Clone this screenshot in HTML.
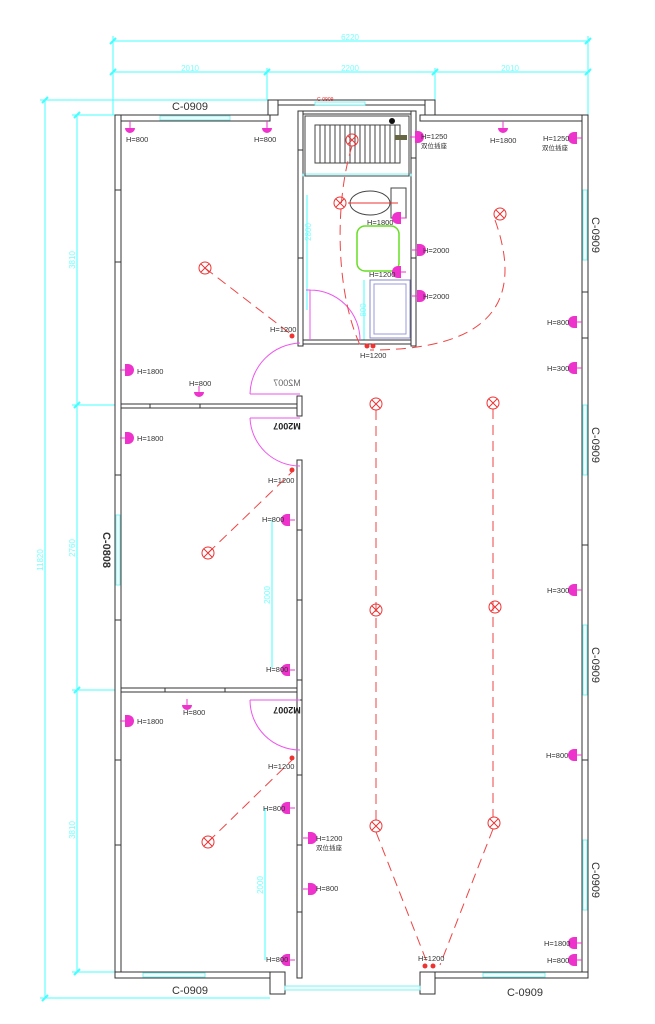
<!DOCTYPE html>
<html><head><meta charset="utf-8"><style>
html,body{margin:0;padding:0;background:#fff;width:655px;height:1024px;overflow:hidden}
svg{display:block}
text{font-family:"Liberation Sans","Noto Sans CJK SC",sans-serif}
.w{fill:#fff;stroke:#333;stroke-width:1}
.c{stroke:#4ff;stroke-width:1;fill:none}
.ct{fill:#7ff;font-size:8px}
.l{font-size:7.5px;fill:#333}
.r{stroke:#e33;stroke-width:1;fill:none}
.d{stroke:#e44;stroke-width:1;fill:none;stroke-dasharray:10 6}
.m{fill:#e3c}
</style></head><body>
<svg width="655" height="1024" viewBox="0 0 655 1024">
<defs>
<g id="L"><circle r="6" class="r"/><path d="M-4,-4L4,4M-4,4L4,-4" class="r"/></g>
<g id="S"><path d="M0,-6A6,6 0 0 0 0,6Z" class="m"/><rect x="0" y="-6" width="3" height="12" class="m"/><line x1="3" y1="0" x2="8" y2="0" stroke="#e3c"/></g>
</defs>
<g class="c">
<line x1="113" y1="41" x2="590" y2="41"/><line x1="113" y1="72" x2="590" y2="72"/>
<line x1="113" y1="36" x2="113" y2="115"/><line x1="588" y1="36" x2="588" y2="115"/>
<line x1="267" y1="68" x2="267" y2="100"/><line x1="435" y1="68" x2="435" y2="100"/>
<line x1="45" y1="100" x2="45" y2="998"/><line x1="40" y1="100" x2="270" y2="100"/><line x1="40" y1="998" x2="270" y2="998"/>
<line x1="77" y1="115" x2="77" y2="972"/><line x1="72" y1="115" x2="115" y2="115"/><line x1="72" y1="405" x2="115" y2="405"/><line x1="72" y1="690" x2="115" y2="690"/><line x1="72" y1="972" x2="115" y2="972"/>
<line x1="307" y1="195" x2="307" y2="310"/><line x1="272" y1="520" x2="272" y2="668"/><line x1="265" y1="808" x2="265" y2="960"/>
<line x1="364" y1="280" x2="364" y2="340"/>
</g>
<g stroke="#4ff" stroke-width="2"><path d="M110,44l6,-6M585,44l6,-6M110,75l6,-6M264,75l6,-6M432,75l6,-6M585,75l6,-6M42,103l6,-6M42,1001l6,-6M74,118l6,-6M74,408l6,-6M74,693l6,-6M74,975l6,-6"/></g>
<text class="ct" x="350" y="40" text-anchor="middle">6220</text>
<text class="ct" x="190" y="71" text-anchor="middle">2010</text>
<text class="ct" x="350" y="71" text-anchor="middle">2200</text>
<text class="ct" x="510" y="71" text-anchor="middle">2010</text>
<text class="ct" transform="translate(43,560) rotate(-90)" text-anchor="middle">11820</text>
<text class="ct" transform="translate(75,260) rotate(-90)" text-anchor="middle">3810</text>
<text class="ct" transform="translate(75,548) rotate(-90)" text-anchor="middle">2760</text>
<text class="ct" transform="translate(75,830) rotate(-90)" text-anchor="middle">3810</text>
<text class="ct" transform="translate(311,232) rotate(-90)" text-anchor="middle">2800</text>
<text class="ct" transform="translate(270,595) rotate(-90)" text-anchor="middle">2000</text>
<text class="ct" transform="translate(263,885) rotate(-90)" text-anchor="middle">2000</text>
<text class="ct" transform="translate(366,310) rotate(-90)" text-anchor="middle">800</text>
<rect class="w" x="115" y="115" width="155" height="6"/>
<rect class="w" x="420" y="115" width="168" height="6"/>
<rect class="w" x="115" y="115" width="6" height="863"/>
<rect class="w" x="582" y="115" width="6" height="863"/>
<rect class="w" x="268" y="100" width="167" height="5"/>
<rect class="w" x="268" y="100" width="10" height="15"/><rect class="w" x="425" y="100" width="10" height="15"/>
<rect class="w" x="298" y="111" width="5" height="235"/>
<rect class="w" x="411" y="111" width="5" height="235"/>
<rect class="w" x="303" y="111" width="108" height="3"/>
<rect class="w" x="303" y="340" width="108" height="4"/>
<rect class="w" x="121" y="404" width="180" height="4"/>
<rect class="w" x="121" y="688" width="180" height="4"/>
<rect class="w" x="297" y="460" width="5" height="518"/>
<rect class="w" x="297" y="396" width="5" height="20"/>
<rect class="w" x="297" y="680" width="5" height="20"/>
<rect class="w" x="115" y="972" width="170" height="6"/><rect class="w" x="420" y="972" width="168" height="6"/>
<rect class="w" x="270" y="972" width="15" height="22"/><rect class="w" x="420" y="972" width="15" height="22"/>
<g stroke="#333"><path d="M115,190h6M115,262h6M115,475h6M115,620h6M115,760h6M115,845h6M582,292h6M582,338h6M582,545h6M582,760h6M297,530h5M297,600h5M297,775h5M297,845h5M297,912h5M298,150h5M298,258h5M411,158h5M411,258h5M150,404v4M200,404v4M165,688v4M225,688v4"/></g>
<g fill="#eff" stroke="#6ee" stroke-width="0.8">
<rect x="160" y="116" width="70" height="4"/><rect x="315" y="102" width="50" height="3"/>
<rect x="583" y="190" width="4" height="70"/><rect x="583" y="405" width="4" height="70"/>
<rect x="583" y="625" width="4" height="70"/><rect x="583" y="840" width="4" height="70"/>
<rect x="116" y="515" width="4" height="70"/>
<rect x="143" y="973" width="62" height="4"/><rect x="483" y="973" width="62" height="4"/>
<rect x="285" y="986" width="135" height="4"/>
<rect x="303" y="174" width="108" height="2"/>
</g>
<text x="317" y="101" font-size="5" fill="#e22">C-0909</text>
<rect x="305" y="116" width="104" height="60" fill="none" stroke="#444"/>
<g stroke="#444"><rect x="315" y="125" width="85" height="38" fill="none"/>
<path d="M320,125v38M325,125v38M330,125v38M335,125v38M340,125v38M345,125v38M350,125v38M355,125v38M360,125v38M365,125v38M370,125v38M375,125v38M380,125v38M385,125v38M390,125v38M395,125v38"/></g>
<circle cx="392" cy="121" r="3" fill="#111"/>
<rect x="395" y="135" width="12" height="5" fill="#664"/>
<ellipse cx="370" cy="203" rx="20" ry="12" fill="none" stroke="#444"/><rect x="391" y="188" width="15" height="30" fill="none" stroke="#444"/>
<line x1="348" y1="203" x2="398" y2="203" stroke="#e33"/>
<rect x="357" y="226" width="42" height="45" rx="8" fill="none" stroke="#6d2" stroke-width="1.5"/>
<rect x="370" y="280" width="40" height="58" fill="none" stroke="#88c"/><rect x="374" y="284" width="32" height="50" fill="none" stroke="#99d"/>
<g stroke="#e5e" fill="none">
<path d="M306,290h4v50M310,290A50,50 0 0 1 360,340"/>
<path d="M300,394h-50M250,394A52,52 0 0 1 300,343"/>
<path d="M300,418h-50M250,418A50,50 0 0 0 300,466"/>
<path d="M300,700h-50M250,700A50,50 0 0 0 300,750"/>
</g>
<text transform="translate(287,386) scale(-1,1)" font-size="9" fill="#666" text-anchor="middle">M2007</text>
<text transform="translate(287,423) scale(-1,-1)" font-size="9" font-weight="bold" fill="#222" text-anchor="middle">M2007</text>
<text transform="translate(287,707) scale(-1,-1)" font-size="9" font-weight="bold" fill="#222" text-anchor="middle">M2007</text>
<g font-size="11" fill="#333">
<text x="190" y="110" text-anchor="middle">C-0909</text>
<text x="190" y="994" text-anchor="middle">C-0909</text>
<text x="525" y="996" text-anchor="middle">C-0909</text>
<text transform="translate(592,235) rotate(90)" text-anchor="middle">C-0909</text>
<text transform="translate(592,445) rotate(90)" text-anchor="middle">C-0909</text>
<text transform="translate(592,665) rotate(90)" text-anchor="middle">C-0909</text>
<text transform="translate(592,880) rotate(90)" text-anchor="middle">C-0909</text>
<text transform="translate(103,550) rotate(90)" text-anchor="middle" font-weight="bold">C-0808</text>
</g>
<g class="d">
<path d="M205,268L292,335"/><path d="M208,553L292,472"/><path d="M208,842L292,760"/>
<path d="M376,410V820M493,409V817"/>
<path d="M376,832L428,965M493,829L440,965"/>
<path d="M352,146C335,200 335,290 360,345"/>
<path d="M495,220C520,290 505,350 370,350"/>
</g>
<use href="#L" x="205" y="268"/><use href="#L" x="352" y="140"/><use href="#L" x="340" y="203"/><use href="#L" x="500" y="214"/>
<use href="#L" x="376" y="404"/><use href="#L" x="493" y="403"/><use href="#L" x="208" y="553"/><use href="#L" x="376" y="610"/>
<use href="#L" x="495" y="607"/><use href="#L" x="208" y="842"/><use href="#L" x="376" y="826"/><use href="#L" x="494" y="823"/>
<g fill="#e33"><circle cx="292" cy="336" r="2.5"/><circle cx="292" cy="470" r="2.5"/><circle cx="292" cy="758" r="2.5"/><circle cx="367" cy="346" r="2.5"/><circle cx="373" cy="346" r="2.5"/><circle cx="425" cy="966" r="2.5"/><circle cx="433" cy="966" r="2.5"/></g>
<g>
<path class="m" d="M125,128h10a5,5 0 0 1 -10,0z"/><path class="m" d="M262,128h10a5,5 0 0 1 -10,0z"/>
<path class="m" d="M498,128h10a5,5 0 0 1 -10,0z"/><path class="m" d="M194,392h10a5,5 0 0 1 -10,0z"/><path class="m" d="M182,705h10a5,5 0 0 1 -10,0z"/>
<g stroke="#e3c"><path d="M130,121v7M267,121v7M503,121v7M199,386v6M187,699v6"/></g>
<use href="#S" x="418" y="137" transform="rotate(180 418 137)"/>
<use href="#S" x="574" y="138"/>
<use href="#S" x="398" y="218"/><use href="#S" x="398" y="272"/>
<use href="#S" x="420" y="250" transform="rotate(180 420 250)"/><use href="#S" x="420" y="296" transform="rotate(180 420 296)"/>
<use href="#S" x="574" y="322"/><use href="#S" x="574" y="368"/><use href="#S" x="574" y="590"/><use href="#S" x="574" y="755"/>
<use href="#S" x="574" y="943"/><use href="#S" x="574" y="960"/>
<use href="#S" x="128" y="370" transform="rotate(180 128 370)"/><use href="#S" x="128" y="438" transform="rotate(180 128 438)"/><use href="#S" x="128" y="721" transform="rotate(180 128 721)"/>
<use href="#S" x="287" y="520"/><use href="#S" x="287" y="670"/><use href="#S" x="287" y="808"/><use href="#S" x="287" y="960"/>
<use href="#S" x="311" y="838" transform="rotate(180 311 838)"/><use href="#S" x="311" y="889" transform="rotate(180 311 889)"/>
</g>
<g class="l">
<text x="126" y="142">H=800</text><text x="254" y="142">H=800</text>
<text x="421" y="139">H=1250</text><text x="421" y="148" font-size="6.5">双位插座</text>
<text x="490" y="143">H=1800</text><text x="543" y="141">H=1250</text><text x="542" y="150" font-size="6.5">双位插座</text>
<text x="367" y="225">H=1800</text><text x="423" y="253">H=2000</text><text x="369" y="277">H=1200</text><text x="423" y="299">H=2000</text>
<text x="270" y="332">H=1200</text><text x="360" y="358">H=1200</text>
<text x="547" y="325">H=800</text><text x="547" y="371">H=300</text>
<text x="137" y="374">H=1800</text><text x="189" y="386">H=800</text>
<text x="137" y="441">H=1800</text><text x="268" y="483">H=1200</text>
<text x="262" y="522">H=800</text><text x="547" y="593">H=300</text><text x="266" y="672">H=800</text>
<text x="137" y="724">H=1800</text><text x="183" y="715">H=800</text>
<text x="268" y="769">H=1200</text><text x="546" y="758">H=800</text>
<text x="263" y="811">H=800</text><text x="316" y="841">H=1200</text><text x="316" y="850" font-size="6.5">双位插座</text>
<text x="316" y="891">H=800</text>
<text x="544" y="946">H=1800</text><text x="547" y="963">H=800</text>
<text x="266" y="962">H=800</text><text x="418" y="961">H=1200</text>
</g>
</svg>
</body></html>
